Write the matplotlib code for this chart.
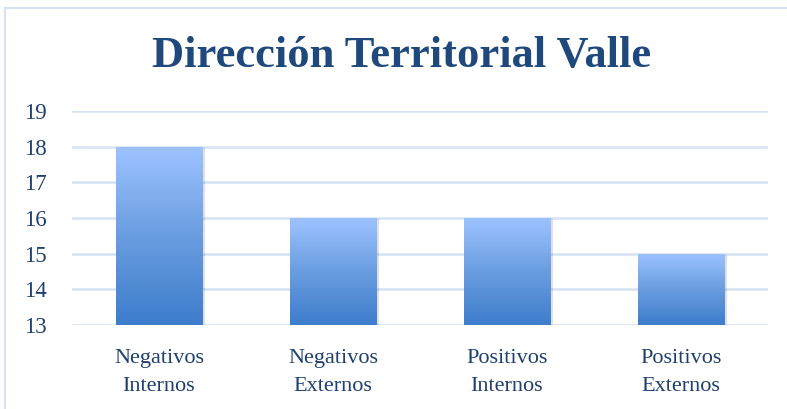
import matplotlib
matplotlib.use("Agg")
import matplotlib.pyplot as plt
import numpy as np
from matplotlib.colors import LinearSegmentedColormap
from matplotlib.patches import Rectangle

categories = ["Negativos\nInternos", "Negativos\nExternos", "Positivos\nInternos", "Positivos\nExternos"]
values = [18, 16, 16, 15]
yticks = [13, 14, 15, 16, 17, 18, 19]
title = "Dirección Territorial Valle"

plt.rcParams['font.family'] = ['Liberation Serif', 'DejaVu Serif']
W, H = 787, 409
fig = plt.figure(figsize=(W/100, H/100), dpi=100)

# outer frame
fig.patches.append(Rectangle((5/W, -0.05), 1.2, 1 - 8/H + 0.05, transform=fig.transFigure,
                             fill=False, edgecolor="#D6E2F0", linewidth=1.5))

ax = fig.add_axes([72/W, 1 - 325/H, (768-72)/W, (325-111)/H])
ax.set_xlim(-0.5, len(values) - 0.5)
ax.set_ylim(13, 19)
ax.set_yticks(yticks)
ax.set_yticklabels([str(t) for t in yticks], fontsize=16.5, color="#1F3F6E")
ax.set_xticks(range(len(values)))
ax.set_xticklabels(categories, fontsize=16, color="#1F3F6E", linespacing=1.65)
ax.tick_params(axis='x', length=0, pad=17)
ax.tick_params(axis='y', length=0, pad=18)
for s in ax.spines.values():
    s.set_visible(False)
ax.grid(axis='y', color="#D5E2F2", linewidth=1.8)
ax.set_axisbelow(True)

cmap = LinearSegmentedColormap.from_list("g", ["#3D7DCC", "#6A9DE0", "#9DC3FF"])
grad = np.linspace(0, 1, 256).reshape(-1, 1)
width = 0.5
for i, v in enumerate(values):
    ax.bar(i + 0.012, v - 13, width=width, bottom=13 - 0.03, color="#000000", alpha=0.12, zorder=2)
    bars = ax.bar(i, v - 13, width=width, bottom=13, color="none", zorder=3)
    b = bars[0]
    im = ax.imshow(grad, extent=[i - width/2, i + width/2, 13, v], origin='lower',
                   cmap=cmap, aspect='auto', zorder=3)
    im.set_clip_path(b)

fig.text(402/W, 1 - 56/H, title, ha='center', va='center', fontsize=32, fontweight='bold',
         color="#1F497D")

fig.savefig("out.png", dpi=100)
